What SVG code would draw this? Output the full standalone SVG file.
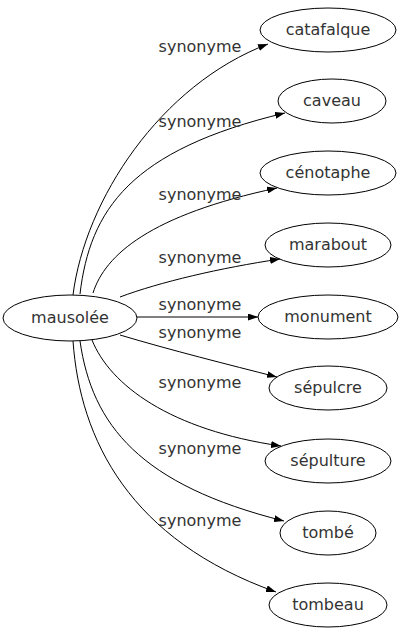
<svg xmlns="http://www.w3.org/2000/svg" width="403" height="635" viewBox="0 0 403 635">
<style>
.n ellipse{fill:none;stroke:#000;stroke-width:1}
text{font-family:"DejaVu Sans",Verdana,sans-serif;font-size:16px;fill:#333;text-anchor:middle}
.e path{fill:none;stroke:#000;stroke-width:1;marker-end:url(#a)}
</style>
<defs>
<marker id="a" viewBox="0 0 10 7" refX="10" refY="3.5" markerWidth="10" markerHeight="7" markerUnits="userSpaceOnUse" orient="auto">
<path d="M0,0L10,3.5L0,7z" fill="#000"/>
</marker>
</defs>
<g id="edges" class="e">
<path d="M73,295 C85,200 160,85 268,44"/>
<path d="M80,294 C90,210 130,150 285,113"/>
<path d="M93,293 C105,255 150,215 277,188"/>
<path d="M120,297 C160,282 220,268 280,259"/>
<path d="M137,317 L258,317"/>
<path d="M120,335 C170,350 230,365 277,377"/>
<path d="M92,340 C110,385 170,430 281,446"/>
<path d="M80,341 C92,425 140,485 284,521"/>
<path d="M73,341 C80,440 130,540 276,592"/>
</g>
<g id="labels">
<text x="200" y="52">synonyme</text>
<text x="200" y="127">synonyme</text>
<text x="200" y="200">synonyme</text>
<text x="200" y="263">synonyme</text>
<text x="200" y="310">synonyme</text>
<text x="200" y="338">synonyme</text>
<text x="200" y="388">synonyme</text>
<text x="200" y="454">synonyme</text>
<text x="200" y="526">synonyme</text>
</g>
<g id="mausolee" class="n"><ellipse cx="70" cy="318" rx="67" ry="23"/><text x="70" y="323">mausolée</text></g>
<g id="catafalque" class="n"><ellipse cx="328" cy="30" rx="68" ry="22"/><text x="328" y="35">catafalque</text></g>
<g id="caveau" class="n"><ellipse cx="332" cy="101" rx="54" ry="22"/><text x="332" y="106">caveau</text></g>
<g id="cenotaphe" class="n"><ellipse cx="328" cy="173" rx="68" ry="22"/><text x="328" y="178">cénotaphe</text></g>
<g id="marabout" class="n"><ellipse cx="328" cy="245" rx="63" ry="22"/><text x="328" y="250">marabout</text></g>
<g id="monument" class="n"><ellipse cx="328" cy="317" rx="70" ry="22"/><text x="328" y="322">monument</text></g>
<g id="sepulcre" class="n"><ellipse cx="328" cy="388" rx="59" ry="22"/><text x="328" y="393">sépulcre</text></g>
<g id="sepulture" class="n"><ellipse cx="328" cy="461" rx="63" ry="22"/><text x="328" y="466">sépulture</text></g>
<g id="tombe" class="n"><ellipse cx="328" cy="533" rx="48" ry="22"/><text x="328" y="538">tombé</text></g>
<g id="tombeau" class="n"><ellipse cx="328" cy="605" rx="59" ry="22"/><text x="328" y="610">tombeau</text></g>
</svg>
